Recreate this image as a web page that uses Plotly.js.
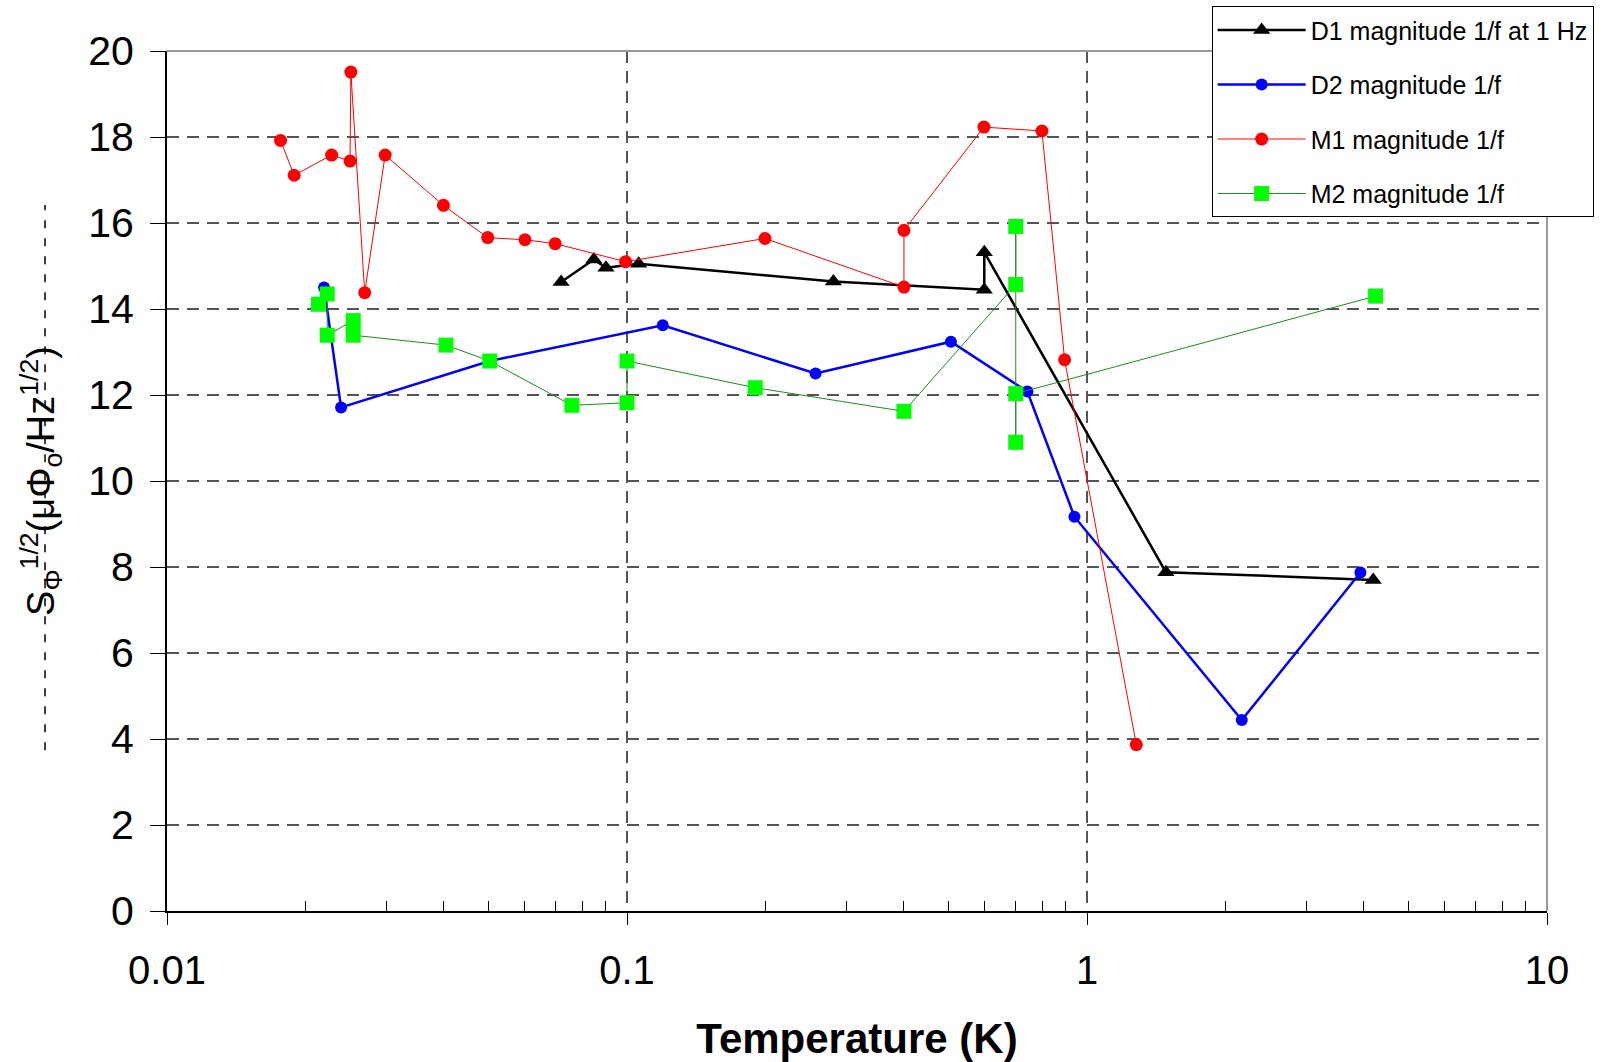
<!DOCTYPE html>
<html>
<head>
<meta charset="utf-8">
<script src="https://cdn.plot.ly/plotly-3.0.1.min.js"></script>
<style>html,body{margin:0;padding:0;background:#fff;}#chart{width:1610px;height:1062px;}</style>
</head>
<body>
<div id="chart"></div>
<script>
// ---- data ----
const d1T = [0.0719, 0.0847, 0.090, 0.106, 0.281, 0.598, 0.598, 1.484, 4.19];
const d1S = [14.63, 15.15, 14.96, 15.05, 14.64, 14.45, 15.32, 7.88, 7.70];

const d2T = [0.02195, 0.0239, 0.0503, 0.1196, 0.257, 0.506, 0.742, 0.939, 2.17, 3.93];
const d2S = [14.50, 11.71, 12.79, 13.62, 12.50, 13.24, 12.08, 9.17, 4.44, 7.87];

const m1T = [0.01765, 0.0189, 0.0228, 0.0250, 0.0251, 0.0269, 0.0298, 0.0399, 0.0498, 0.0600, 0.0698, 0.0993, 0.1995, 0.400, 0.400, 0.597, 0.798, 0.894, 1.28];
const m1S = [17.92, 17.11, 17.58, 17.44, 19.51, 14.38, 17.58, 16.41, 15.66, 15.61, 15.52, 15.10, 15.64, 14.51, 15.83, 18.23, 18.14, 12.82, 3.87];

const m2T = [0.02135, 0.0223, 0.0223, 0.0254, 0.0254, 0.0404, 0.0503, 0.0759, 0.100, 0.100, 0.190, 0.400, 0.700, 0.700, 0.700, 0.700, 4.24];
const m2S = [14.11, 14.35, 13.39, 13.73, 13.39, 13.16, 12.79, 11.76, 11.82, 12.79, 12.17, 11.62, 14.57, 15.92, 10.90, 12.03, 14.30];

const seriesNames = ["D1 magnitude 1/f at 1 Hz", "D2 magnitude 1/f", "M1 magnitude 1/f", "M2 magnitude 1/f"];
const xTickVals = [0.01, 0.1, 1, 10];
const xTickText = ["0.01", "0.1", "1", "10"];
const yTickVals = [0, 2, 4, 6, 8, 10, 12, 14, 16, 18, 20];
const xTitle = "Temperature (K)";
const yTitle = "S<sub>Φ</sub><sup>1/2</sup>(μΦ<sub>o</sub>/Hz<sup>1/2</sup>)";

// minor tick positions 2..9 in each decade
const minorVals = [];
for (let e = -2; e < 1; e++) for (let m = 2; m <= 9; m++) minorVals.push(m * Math.pow(10, e));

const FONT = "Liberation Sans, Arial, sans-serif";

const traces = [
  {x: d1T, y: d1S, name: seriesNames[0], legendgroup: "g1", mode: "lines+markers",
   line: {color: "#000000", width: 2.5}, marker: {symbol: "triangle-up", size: 15, color: "#000000"}},
  {x: d2T, y: d2S, name: seriesNames[1], legendgroup: "g2", mode: "lines+markers",
   line: {color: "#0000FF", width: 2.5}, marker: {symbol: "circle", size: 12, color: "#0000FF"}},
  {x: m1T, y: m1S, name: seriesNames[2], legendgroup: "g3", mode: "lines+markers",
   line: {color: "#FF0000", width: 1}, marker: {symbol: "circle", size: 13, color: "#FF0000"}},
  {x: m2T, y: m2S, name: seriesNames[3], legendgroup: "g4", mode: "lines+markers",
   line: {color: "#1E8C1E", width: 1}, marker: {symbol: "square", size: 15, color: "#00FF00"}}
];

const layout = {
  width: 1610, height: 1062,
  margin: {l: 167, r: 63, t: 51, b: 151, pad: 0, autoexpand: false},
  paper_bgcolor: "#ffffff", plot_bgcolor: "#ffffff",
  font: {family: FONT, color: "#000000"},
  showlegend: true,
  legend: {
    x: 0.757, y: 1.052, xanchor: "left", yanchor: "top",
    bgcolor: "#ffffff", bordercolor: "#000000", borderwidth: 1,
    font: {family: FONT, size: 25, color: "#000000"},
    tracegroupgap: 19, itemwidth: 88, traceorder: "grouped"
  },
  xaxis: {
    type: "log", range: [-2, 1],
    tickmode: "array", tickvals: xTickVals, ticktext: xTickText,
    ticks: "outside", ticklen: 12, tickwidth: 1, tickcolor: "#000000",
    ticklabelstandoff: 11,
    tickfont: {family: FONT, size: 40, color: "#000000"},
    showline: true, linecolor: "#000000", linewidth: 2,
    showgrid: true, gridcolor: "#555555", gridwidth: 1.5, griddash: "12px,8px",
    zeroline: false,
    minor: {tickmode: "array", tickvals: minorVals, ticks: "inside", ticklen: 10, tickcolor: "#000000", tickwidth: 1, showgrid: false},
    title: {text: xTitle, font: {family: FONT, size: 42, color: "#000000", weight: "bold"}, standoff: 45},
    automargin: false
  },
  yaxis: {
    range: [0, 20], tickmode: "array", tickvals: yTickVals,
    ticks: "outside", ticklen: 15, tickwidth: 1, tickcolor: "#000000",
    ticklabelstandoff: 8,
    tickfont: {family: FONT, size: 41, color: "#000000"},
    showline: true, linecolor: "#000000", linewidth: 2,
    showgrid: true, gridcolor: "#555555", gridwidth: 1.5, griddash: "12px,8px",
    zeroline: false,
    title: {text: yTitle, font: {family: FONT, size: 38, color: "#000000"}, standoff: 22},
    automargin: false
  },
  shapes: [
    {type: "line", xref: "paper", yref: "paper", x0: 0, x1: 1, y0: 1, y1: 1, line: {color: "#999999", width: 2}},
    {type: "line", xref: "paper", yref: "paper", x0: 1, x1: 1, y0: 0, y1: 1, line: {color: "#999999", width: 2}},
    {type: "line", xref: "paper", yref: "paper", x0: -0.0884, x1: -0.0884, y0: 0.187, y1: 0.821, line: {color: "#000000", width: 1.5, dash: "8px,10px"}}
  ]
};

Plotly.newPlot("chart", traces, layout, {displayModeBar: false, staticPlot: true});
</script>
</body>
</html>
